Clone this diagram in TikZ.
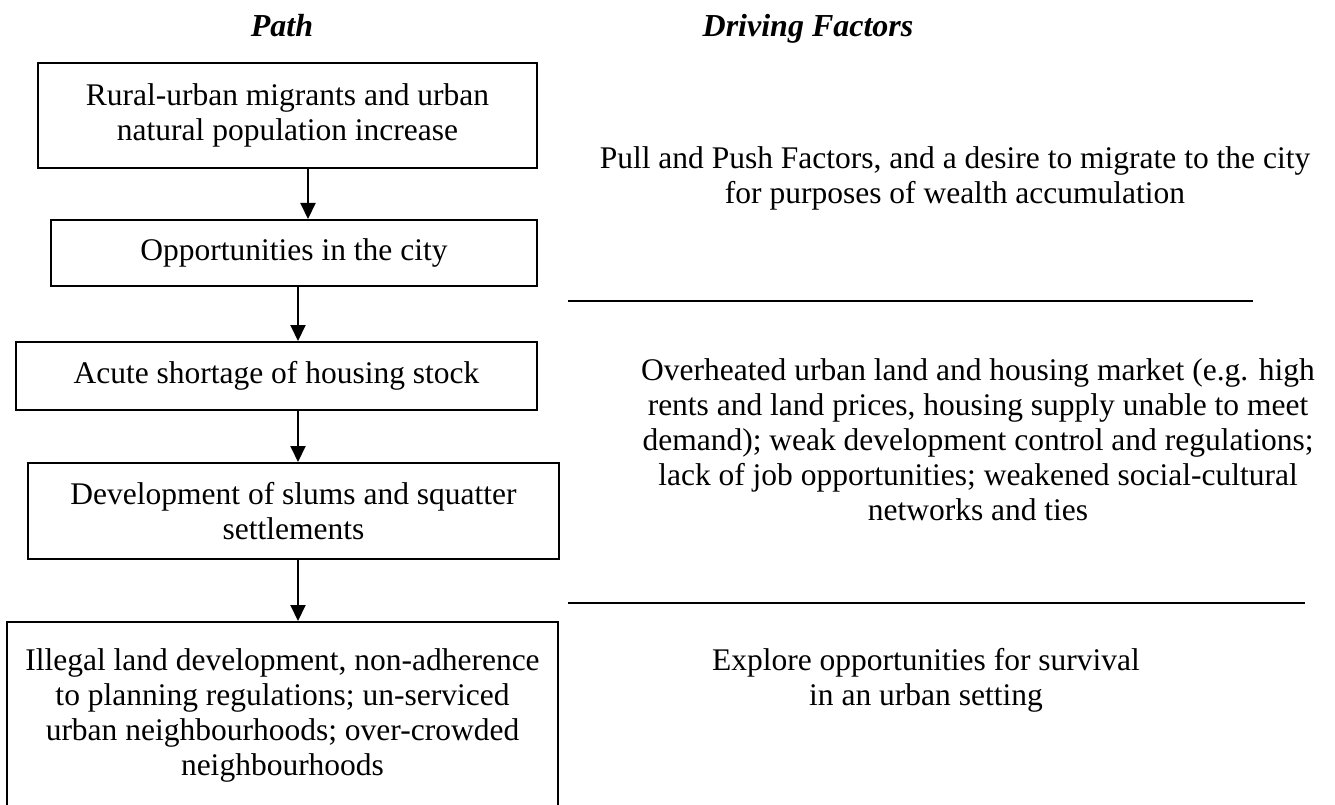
\documentclass[tikz,border=0pt]{standalone}
\usepackage{fontspec}
\setmainfont{Liberation Serif}
\usetikzlibrary{arrows.meta}
\begin{document}
\begin{tikzpicture}[x=1pt,y=-1pt,
  every node/.style={font=\fontsize{31.5}{35}\selectfont, inner sep=0pt},
  box/.style={draw, line width=2pt, align=center},
  flow/.style={line width=2pt, -{Triangle[width=15pt,length=16pt]}},
  rule/.style={line width=2.5pt},
  head/.style={font=\fontsize{32}{38}\selectfont\bfseries\itshape, anchor=base},
  note/.style={align=center, anchor=north}]
\useasboundingbox (0,0) rectangle (1335,805);
\clip (0,0) rectangle (1335,805);

% column headings
\node[head] (hpath) at (282,37) {Path};
\node[head] (hdrive) at (808,37) {Driving Factors};

% the path, top to bottom
\node[box, minimum width=499pt, minimum height=105pt] (b1) at (287.5,115.5)
  {Rural-urban migrants and urban\\natural population increase};
\node[box, minimum width=486pt, minimum height=66pt] (b2) at (294,253)
  {Opportunities in the city};
\node[box, minimum width=521pt, minimum height=68pt] (b3) at (276.5,376)
  {Acute shortage of housing stock};
\node[box, minimum width=531pt, minimum height=96pt] (b4) at (293.5,511)
  {Development of slums and squatter\\settlements};
\node[box, minimum width=551pt, minimum height=260pt, anchor=north] (b5) at (282.5,621) {};
\node[note] (t5) at (282.5,648)
  {Illegal land development, non-adherence\\to planning regulations; un-serviced\\urban neighbourhoods; over-crowded\\neighbourhoods};

% arrow axes
\coordinate (ax1) at (308,0);
\coordinate (ax2) at (298,0);
\draw[flow] (b1.south -| ax1) -- (b2.north -| ax1);
\draw[flow] (b2.south -| ax2) -- (b3.north -| ax2);
\draw[flow] (b3.south -| ax2) -- (b4.north -| ax2);
\draw[flow] (b4.south -| ax2) -- (b5.north -| ax2);

% driving factors
\node[note] (d1) at (955,146.5)
  {Pull and Push Factors, and a desire to migrate to the city\\for purposes of wealth accumulation};
\node[note] (d2) at (978,358.5)
  {Overheated urban land and housing market (e.g. high\\rents and land prices, housing supply unable to meet\\demand); weak development control and regulations;\\lack of job opportunities; weakened social-cultural\\networks and ties};
\node[note] (d3) at (926,648)
  {Explore opportunities for survival\\in an urban setting};

% separators between the factor groups
\coordinate (r1a) at (568,301);
\coordinate (r1b) at (1253,301);
\coordinate (r2a) at (568,603);
\coordinate (r2b) at (1305,603);
\draw[rule] (r1a) -- (r1b);
\draw[rule] (r2a) -- (r2b);
\end{tikzpicture}
\end{document}
